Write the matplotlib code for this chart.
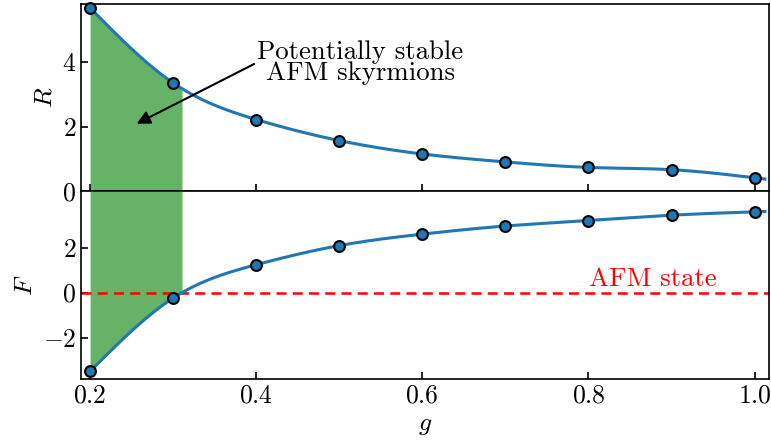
import numpy as np
import matplotlib
matplotlib.use("Agg")
import matplotlib.pyplot as plt

plt.rcParams["font.family"] = "serif"
plt.rcParams["font.serif"] = ["cmr10"]
plt.rcParams["mathtext.fontset"] = "cm"
plt.rcParams["axes.formatter.use_mathtext"] = True
plt.rcParams["font.size"] = 18.5

g = [0.2, 0.3, 0.4, 0.5, 0.6, 0.7, 0.8, 0.9, 1.0]
R = [5.67, 3.35, 2.22, 1.57, 1.155, 0.91, 0.74, 0.67, 0.42]
F = [-3.5, -0.24, 1.24, 2.09, 2.6, 2.96, 3.2, 3.44, 3.59]


def spline(x, y, xs):
    # natural cubic spline, end pieces extended past the data
    x = np.asarray(x, float)
    y = np.asarray(y, float)
    n = len(x)
    h = np.diff(x)
    A = np.zeros((n, n))
    b = np.zeros(n)
    A[0, 0] = A[-1, -1] = 1
    for i in range(1, n - 1):
        A[i, i - 1] = h[i - 1]
        A[i, i] = 2 * (h[i - 1] + h[i])
        A[i, i + 1] = h[i]
        b[i] = 3 * ((y[i + 1] - y[i]) / h[i] - (y[i] - y[i - 1]) / h[i - 1])
    c = np.linalg.solve(A, b)
    bc = (y[1:] - y[:-1]) / h - h * (2 * c[:-1] + c[1:]) / 3
    dc = (c[1:] - c[:-1]) / (3 * h)
    k = np.clip(np.searchsorted(x, xs) - 1, 0, n - 2)
    dx = xs - x[k]
    return y[k] + bc[k] * dx + c[k] * dx**2 + dc[k] * dx**3


gs = np.linspace(0.2, 1.0125, 400)
Rs = spline(g, R, gs)
Fs = spline(g, F, gs)

# where F changes sign
j = np.where(np.diff(np.sign(Fs)) > 0)[0][0]
g0 = gs[j] - Fs[j] * (gs[j + 1] - gs[j]) / (Fs[j + 1] - Fs[j])
gf = np.append(gs[gs < g0], g0)

fig, (ax1, ax2) = plt.subplots(2, 1, figsize=(7.71, 4.43), dpi=100, sharex=True)
fig.subplots_adjust(left=0.105, right=0.997, top=0.991, bottom=0.145, hspace=0)

F_top = 4.5

ax1.fill_between(gf, 0, spline(g, R, gf), color="g", alpha=0.6, lw=0)
ax1.plot(gs, Rs, color="#1f77b4", lw=2.2)
ax1.plot(g, R, "o", color="#1f77b4", mec="k", ms=7.8, mew=1.5, clip_on=False, zorder=5)
ax1.set_ylim(0, 5.79)
ax1.set_yticks([0, 2, 4])
ax1.set_ylabel("$R$")
ax1.annotate("Potentially stable\nAFM skyrmions", xy=(0.256, 2.09), xytext=(0.525, 3.98),
             ha="center", va="center", linespacing=0.82, fontsize=19.3,
             arrowprops=dict(arrowstyle="-|>", color="k", lw=1.5, mutation_scale=20,
                             shrinkA=0, shrinkB=0, relpos=(0.0, 0.5)))

ax2.fill_between(gf, spline(g, F, gf), F_top, color="g", alpha=0.6, lw=0)
ax2.axhline(0, color="red", ls="--", lw=1.8, dashes=(4, 2.5))
ax2.plot(gs, Fs, color="#1f77b4", lw=2.2)
ax2.plot(g, F, "o", color="#1f77b4", mec="k", ms=7.8, mew=1.5, clip_on=False, zorder=5)
ax2.text(0.8775, 0.3, "AFM state", color="red", ha="center", va="baseline", fontsize=19.3)
ax2.set_ylim(-3.83, F_top)
ax2.set_yticks([-2, 0, 2])
ax2.set_ylabel("$F$")
ax2.set_xlabel("$g$")
ax2.set_xlim(0.189, 1.017)
ax2.set_xticks([0.2, 0.4, 0.6, 0.8, 1.0])

for ax in (ax1, ax2):
    ax.tick_params(direction="in", length=5, width=1.2)
    for s in ax.spines.values():
        s.set_linewidth(1.2)

fig.savefig("out.png", dpi=100)
